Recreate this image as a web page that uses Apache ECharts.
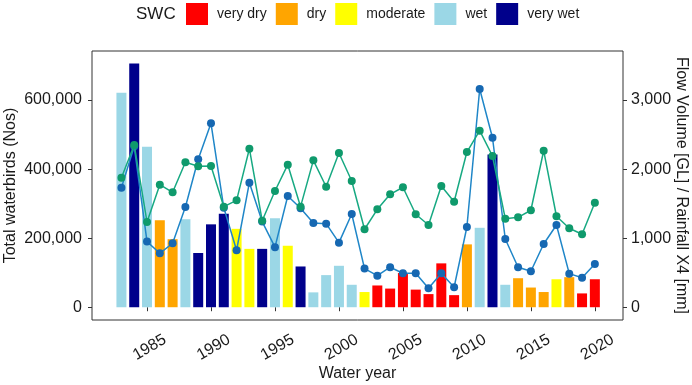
<!DOCTYPE html>
<html>
<head>
<meta charset="utf-8">
<script src="https://cdn.jsdelivr.net/npm/echarts@6/dist/echarts.min.js"></script>
<style>
  html, body {margin: 0; padding: 0; background: #fff;}
  #main {width: 692px; height: 385px;}
</style>
</head>
<body>
<div id="main"></div>
<script>
// water years
const years = [1983, 1984, 1985, 1986, 1987, 1988, 1989, 1990, 1991, 1992, 1993, 1994, 1995, 1996, 1997,
  1998, 1999, 2000, 2001, 2002, 2003, 2004, 2005, 2006, 2007, 2008, 2009, 2010, 2011, 2012,
  2013, 2014, 2015, 2016, 2017, 2018, 2019, 2020];
// total waterbirds (bars)
const birds = [621000, 706000, 465000, 252000, 197000, 255000, 157000, 240000, 271000, 227000, 169000, 169000, 258000, 178000, 118000,
  43000, 93000, 120000, 65000, 44000, 63000, 54000, 99000, 51000, 38000, 127000, 35000, 182000, 230000, 442000,
  65000, 84000, 57000, 44000, 81000, 87000, 40000, 81000];
// SWC class of each year
const swc = ['wet', 'very wet', 'wet', 'dry', 'dry', 'wet', 'very wet', 'very wet', 'very wet', 'moderate', 'moderate', 'very wet', 'wet', 'moderate', 'very wet',
  'wet', 'wet', 'wet', 'wet', 'moderate', 'very dry', 'very dry', 'very dry', 'very dry', 'very dry', 'very dry', 'very dry', 'dry', 'wet', 'very wet',
  'wet', 'dry', 'dry', 'dry', 'moderate', 'dry', 'very dry', 'very dry'];
// flow volume GL (blue)
const flow = [1731, 2330, 950, 781, 926, 1452, 2142, 2663, 1440, 825, 1803, 1240, 870, 1611, 1433,
  1220, 1210, 935, 1350, 559, 457, 579, 492, 492, 275, 492, 289, 1162, 3159, 2454,
  988, 579, 521, 916, 1191, 486, 428, 627];
// rainfall x4 mm (green)
const rain = [1876, 2349, 1234, 1774, 1664, 2098, 2040, 2045, 1456, 1548, 2295, 1253, 1683, 2064, 1456,
  2127, 1745, 2233, 1828, 1129, 1418, 1635, 1737, 1346, 1191, 1755, 1528, 2247, 2556, 2190,
  1282, 1302, 1404, 2266, 1317, 1143, 1056, 1514];

const classes = ['very dry', 'dry', 'moderate', 'wet', 'very wet'];
const classColors = ['#ff0000', '#ffa500', '#ffff00', '#9bd7e6', '#00008b'];
const yearTicks = [1985, 1990, 1995, 2000, 2005, 2010, 2015, 2020];
const birdTicks = [0, 200000, 400000, 600000];
const flowTicks = [0, 1000, 2000, 3000];

const font = 'Liberation Sans, Arial, sans-serif';
const ink = '#1a1a1a';

const chart = echarts.init(document.getElementById('main'));

const barSeries = classes.map((c, k) => ({
  name: c,
  type: 'bar',
  barWidth: 10,
  barGap: '-100%',
  itemStyle: {color: classColors[k]},
  data: years.map((y, i) => swc[i] === c ? [y, birds[i]] : null).filter(d => d)
}));

chart.setOption({
  animation: false,
  textStyle: {fontFamily: font},
  title: {
    text: 'SWC', left: 131, top: 1,
    textStyle: {fontSize: 17, fontWeight: 'normal', color: ink, fontFamily: font}
  },
  legend: {
    data: classes,
    left: 181, top: -2,
    itemWidth: 22, itemHeight: 22, itemGap: 9,
    icon: 'rect',
    textStyle: {fontSize: 14, color: ink, padding: [0, 0, 0, 4], fontFamily: font}
  },
  grid: {
    left: 92, right: 69, top: 51, bottom: 65,
    containLabel: false, outerBoundsMode: 'none',
    show: true, borderColor: '#333', borderWidth: 1
  },
  xAxis: {
    type: 'value', min: 1980.7, max: 2022.2,
    name: 'Water year', nameLocation: 'middle', nameGap: 46, nameMoveOverlap: false,
    nameTextStyle: {fontSize: 16, color: ink},
    axisLine: {show: false},
    splitLine: {show: false},
    axisTick: {show: true, length: 4, lineStyle: {color: '#333'}, customValues: yearTicks},
    axisLabel: {
      customValues: yearTicks, rotate: 30, align: 'center', verticalAlign: 'middle', margin: 29,
      padding: [0, 0, 0, 6],
      fontSize: 16, color: ink, formatter: v => String(v)
    }
  },
  yAxis: [
    {
      type: 'value', min: -37000, max: 742000,
      name: 'Total waterbirds (Nos)', nameLocation: 'middle', nameGap: 73, nameMoveOverlap: false,
      nameTextStyle: {fontSize: 16, color: ink},
      axisLine: {show: false},
      splitLine: {show: false},
      axisTick: {show: true, length: 4, lineStyle: {color: '#333'}, customValues: birdTicks},
      axisLabel: {customValues: birdTicks, fontSize: 16, color: ink, margin: 10}
    },
    {
      type: 'value', min: -185, max: 3710, position: 'right',
      name: 'Flow Volume [GL] / Rainfall X4 [mm]', nameLocation: 'middle', nameGap: 50, nameRotate: -90,
      nameMoveOverlap: false,
      nameTextStyle: {fontSize: 16, color: ink},
      axisLine: {show: false},
      splitLine: {show: false},
      axisTick: {show: true, length: 4, lineStyle: {color: '#333'}, customValues: flowTicks},
      axisLabel: {customValues: flowTicks, fontSize: 16, color: ink, margin: 8}
    }
  ],
  series: [
    ...barSeries,
    {
      name: 'Flow', type: 'line', yAxisIndex: 1, z: 5,
      symbol: 'circle', symbolSize: 8,
      lineStyle: {color: '#1f86c8', width: 1.5},
      itemStyle: {color: '#1668b2'},
      data: years.map((y, i) => [y, flow[i]])
    },
    {
      name: 'Rainfall', type: 'line', yAxisIndex: 1, z: 6,
      symbol: 'circle', symbolSize: 8,
      lineStyle: {color: '#17a982', width: 1.5},
      itemStyle: {color: '#0f9a6c'},
      data: years.map((y, i) => [y, rain[i]])
    }
  ]
});
</script>
</body>
</html>
